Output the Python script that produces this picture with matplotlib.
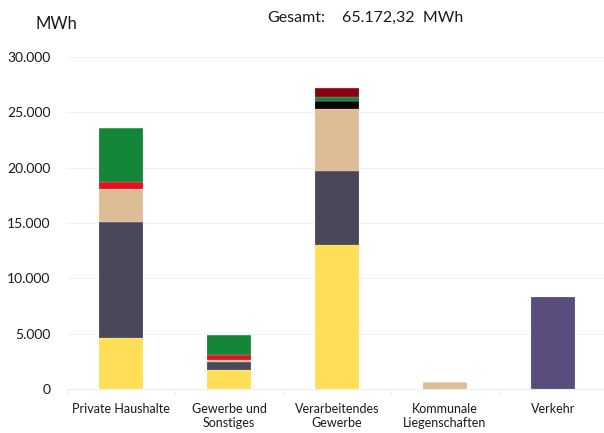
import numpy as np
import matplotlib
matplotlib.use("Agg")
import matplotlib.pyplot as plt
from matplotlib.ticker import FuncFormatter

plt.rcParams['font.family'] = ['Lato', 'DejaVu Sans']

categories = ["Private Haushalte", "Gewerbe und\nSonstiges", "Verarbeitendes\nGewerbe",
              "Kommunale\nLiegenschaften", "Verkehr"]

# MWh per sector, stacked bottom to top
strom = [4600, 1720, 13000, 0, 0]
erdgas = [10500, 720, 6700, 0, 0]
heizoel = [3000, 150, 5600, 600, 0]
kohle = [0, 0, 700, 0, 0]
fernwaerme = [600, 450, 0, 50, 0]
biomasse = [4900, 1880, 400, 0, 0]
fluessiggas = [0, 0, 800, 0, 0]
kraftstoffe = [0, 0, 0, 0, 8300]

series = [strom, erdgas, heizoel, kohle, fernwaerme, biomasse, fluessiggas, kraftstoffe]
colors = ["#FFDF57", "#4A4858", "#DDBD96", "#050505", "#E3101E", "#138637", "#8B0010", "#5A4C7C"]


def main():
    fig = plt.figure(figsize=(6.04, 4.33), dpi=100)
    ax = fig.add_axes([0.111, 0.1016, 0.894, 0.767])

    x = np.arange(len(categories))
    bottom = np.zeros(len(categories))
    for vals, col in zip(series, colors):
        vals = np.array(vals, float)
        ax.bar(x, vals, width=0.41, bottom=bottom, color=col,
               edgecolor=(1, 1, 1, 0.4), linewidth=0.3, zorder=3)
        bottom += vals

    ax.set_xlim(-0.5, 4.5)
    ax.set_ylim(0, 30000)
    ax.set_yticks(np.arange(0, 30001, 5000))
    ax.yaxis.set_major_formatter(FuncFormatter(lambda v, p: f"{int(v):,}".replace(",", ".")))
    ax.grid(axis="y", color="#F2F2F2", linewidth=0.8, zorder=0)
    for s in ["top", "right", "left"]:
        ax.spines[s].set_visible(False)
    ax.spines["bottom"].set_color("#EDEDED")

    ax.set_xticks(x)
    ax.set_xticklabels(categories, fontsize=9, color="#1a1a1a")
    ax.tick_params(axis="x", length=0, pad=10)
    ax.set_xticks(np.arange(-0.5, 4.6, 1), minor=True)
    ax.tick_params(axis="x", which="minor", length=4, color="#EDEDED")
    ax.tick_params(axis="y", length=0, labelsize=10, colors="#1a1a1a", pad=12)

    fig.text(0.058, 0.945, "MWh", fontsize=12, color="#1a1a1a", va="center")
    fig.text(0.443, 0.958, "Gesamt:", fontsize=11.5, color="#1a1a1a", va="center")
    fig.text(0.567, 0.958, "65.172,32  MWh", fontsize=11.5, color="#1a1a1a", va="center")

    fig.savefig("out.png", dpi=100)


if __name__ == "__main__":
    main()
